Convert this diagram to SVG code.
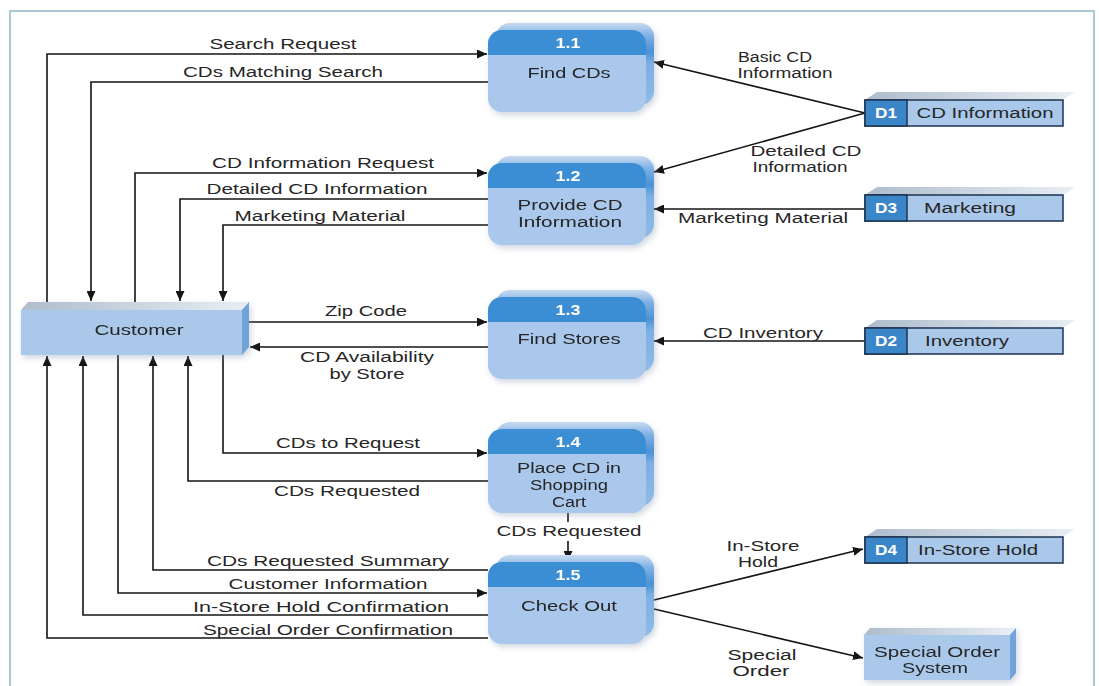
<svg xmlns="http://www.w3.org/2000/svg" width="1099" height="686" viewBox="0 0 1099 686">
<style>
.t{font-family:"Liberation Sans",Arial,sans-serif;font-size:14px;fill:#262626;text-anchor:middle}
.n{font-family:"Liberation Sans",Arial,sans-serif;font-size:14px;font-weight:bold;fill:#ffffff;text-anchor:middle}
.ln{fill:none;stroke:#151515;stroke-width:1.6}
.pbody{fill:#a9c8ec}
.phead{fill:#3b8dd4}
.pback{fill:url(#gback)}
.sfront{fill:#a9c8ea;stroke:#1d3350;stroke-width:1.5}
.sd{fill:#3a86c8;stroke:#1d3350;stroke-width:1.5}
.stop{fill:url(#gtop)}
.eside{fill:#6fa3d8}
.efront{fill:#a9c8ea}
</style>
<defs>
<linearGradient id="gback" x1="0" y1="0" x2="0" y2="1">
<stop offset="0" stop-color="#c9dbf1"/>
<stop offset="0.15" stop-color="#7fb1e4"/>
<stop offset="0.35" stop-color="#4b92d6"/>
<stop offset="0.5" stop-color="#7eb0e3"/>
<stop offset="1" stop-color="#8fbbe7"/>
</linearGradient>
<linearGradient id="gtop" x1="0" y1="0" x2="1" y2="0">
<stop offset="0" stop-color="#aebccc"/>
<stop offset="1" stop-color="#e8eef4"/>
</linearGradient>
<filter id="sh" x="-10%" y="-10%" width="130%" height="130%">
<feDropShadow dx="2" dy="3" stdDeviation="3" flood-color="#7a8fa8" flood-opacity="0.35"/>
</filter>
<marker id="ar" markerUnits="userSpaceOnUse" markerWidth="11" markerHeight="9" refX="10" refY="4.5" orient="auto">
<path d="M0,0 L10,4.5 L0,9 Z" fill="#151515"/>
</marker>
</defs>

<rect x="10" y="11" width="1084" height="690" fill="none" stroke="#a9c8d2" stroke-width="2"/>

<g id="connectors">
<path class="ln" d="M47,302 V54 H487" marker-end="url(#ar)"/>
<path class="ln" d="M488,82 H91 V301" marker-end="url(#ar)"/>
<path class="ln" d="M135,302 V173 H487" marker-end="url(#ar)"/>
<path class="ln" d="M488,199 H180 V301" marker-end="url(#ar)"/>
<path class="ln" d="M488,225 H223 V301" marker-end="url(#ar)"/>
<path class="ln" d="M242,322 H487" marker-end="url(#ar)"/>
<path class="ln" d="M488,347 H250" marker-end="url(#ar)"/>
<path class="ln" d="M223,355 V453 H487" marker-end="url(#ar)"/>
<path class="ln" d="M488,481 H188 V356" marker-end="url(#ar)"/>
<path class="ln" d="M568,513 V522"/>
<path class="ln" d="M568,541 V561" marker-end="url(#ar)"/>
<path class="ln" d="M488,570 H153 V356" marker-end="url(#ar)"/>
<path class="ln" d="M118,355 V593 H487" marker-end="url(#ar)"/>
<path class="ln" d="M488,615 H83 V356" marker-end="url(#ar)"/>
<path class="ln" d="M488,638 H47 V356" marker-end="url(#ar)"/>
<path class="ln" d="M865,113 L654,62" marker-end="url(#ar)"/>
<path class="ln" d="M865,113 L654,172" marker-end="url(#ar)"/>
<path class="ln" d="M865,209 H654" marker-end="url(#ar)"/>
<path class="ln" d="M865,341 H654" marker-end="url(#ar)"/>
<path class="ln" d="M654,600 L863,549" marker-end="url(#ar)"/>
<path class="ln" d="M654,609 L863,658" marker-end="url(#ar)"/>

<text class="t" x="283" y="49" textLength="147" lengthAdjust="spacingAndGlyphs">Search Request</text>
<text class="t" x="283" y="77" textLength="200" lengthAdjust="spacingAndGlyphs">CDs Matching Search</text>
<text class="t" x="323" y="168" textLength="222" lengthAdjust="spacingAndGlyphs">CD Information Request</text>
<text class="t" x="317" y="194" textLength="221" lengthAdjust="spacingAndGlyphs">Detailed CD Information</text>
<text class="t" x="320" y="221" textLength="171" lengthAdjust="spacingAndGlyphs">Marketing Material</text>
<text class="t" x="366" y="316" textLength="82" lengthAdjust="spacingAndGlyphs">Zip Code</text>
<text class="t" x="367" y="362" textLength="134" lengthAdjust="spacingAndGlyphs">CD Availability</text>
<text class="t" x="367" y="379" textLength="75" lengthAdjust="spacingAndGlyphs">by Store</text>
<text class="t" x="348" y="448" textLength="144" lengthAdjust="spacingAndGlyphs">CDs to Request</text>
<text class="t" x="347" y="496" textLength="146" lengthAdjust="spacingAndGlyphs">CDs Requested</text>
<text class="t" x="569" y="536" textLength="145" lengthAdjust="spacingAndGlyphs">CDs Requested</text>
<text class="t" x="328" y="566" textLength="242" lengthAdjust="spacingAndGlyphs">CDs Requested Summary</text>
<text class="t" x="328" y="589" textLength="199" lengthAdjust="spacingAndGlyphs">Customer Information</text>
<text class="t" x="321" y="612" textLength="256" lengthAdjust="spacingAndGlyphs">In-Store Hold Confirmation</text>
<text class="t" x="328" y="635" textLength="250" lengthAdjust="spacingAndGlyphs">Special Order Confirmation</text>
<text class="t" x="775" y="62" textLength="74" lengthAdjust="spacingAndGlyphs">Basic CD</text>
<text class="t" x="785" y="78" textLength="95" lengthAdjust="spacingAndGlyphs">Information</text>
<text class="t" x="806" y="156" textLength="111" lengthAdjust="spacingAndGlyphs">Detailed CD</text>
<text class="t" x="800" y="172" textLength="95" lengthAdjust="spacingAndGlyphs">Information</text>
<text class="t" x="763" y="223" textLength="170" lengthAdjust="spacingAndGlyphs">Marketing Material</text>
<text class="t" x="763" y="338" textLength="120" lengthAdjust="spacingAndGlyphs">CD Inventory</text>
<text class="t" x="763" y="551" textLength="73" lengthAdjust="spacingAndGlyphs">In-Store</text>
<text class="t" x="758" y="567" textLength="40" lengthAdjust="spacingAndGlyphs">Hold</text>
<text class="t" x="762" y="660" textLength="69" lengthAdjust="spacingAndGlyphs">Special</text>
<text class="t" x="761" y="676" textLength="57" lengthAdjust="spacingAndGlyphs">Order</text>
</g>

<g id="customer" filter="url(#sh)">
<polygon class="stop" points="21,310 28,302 249,302 242,310"/>
<polygon class="eside" points="242,310 249,302 249,347 242,355"/>
<rect class="efront" x="21" y="310" width="221" height="45"/>
<text class="t" x="139" y="335" textLength="89" lengthAdjust="spacingAndGlyphs">Customer</text>
</g>

<g id="p1-1" filter="url(#sh)">
<rect class="pback" x="496" y="23" width="158" height="82" rx="14"/>
<rect class="pbody" x="488" y="30" width="158" height="82" rx="14"/>
<path class="phead" d="M488,55 V44 A14,14 0 0 1 502,30 H632 A14,14 0 0 1 646,44 V55 Z"/>
<text class="n" x="568" y="48" textLength="25" lengthAdjust="spacingAndGlyphs">1.1</text>
<text class="t" x="569" y="78" textLength="83" lengthAdjust="spacingAndGlyphs">Find CDs</text>
</g>

<g id="p1-2" filter="url(#sh)">
<rect class="pback" x="496" y="156" width="158" height="82" rx="14"/>
<rect class="pbody" x="488" y="163" width="158" height="82" rx="14"/>
<path class="phead" d="M488,188 V177 A14,14 0 0 1 502,163 H632 A14,14 0 0 1 646,177 V188 Z"/>
<text class="n" x="568" y="181" textLength="25" lengthAdjust="spacingAndGlyphs">1.2</text>
<text class="t" x="570" y="210" textLength="105" lengthAdjust="spacingAndGlyphs">Provide CD</text>
<text class="t" x="570" y="227" textLength="104" lengthAdjust="spacingAndGlyphs">Information</text>
</g>

<g id="p1-3" filter="url(#sh)">
<rect class="pback" x="496" y="290" width="158" height="82" rx="14"/>
<rect class="pbody" x="488" y="297" width="158" height="82" rx="14"/>
<path class="phead" d="M488,322 V311 A14,14 0 0 1 502,297 H632 A14,14 0 0 1 646,311 V322 Z"/>
<text class="n" x="568" y="315" textLength="25" lengthAdjust="spacingAndGlyphs">1.3</text>
<text class="t" x="569" y="344" textLength="103" lengthAdjust="spacingAndGlyphs">Find Stores</text>
</g>

<g id="p1-4" filter="url(#sh)">
<rect class="pback" x="496" y="422" width="158" height="84" rx="14"/>
<rect class="pbody" x="488" y="429" width="158" height="84" rx="14"/>
<path class="phead" d="M488,454 V443 A14,14 0 0 1 502,429 H632 A14,14 0 0 1 646,443 V454 Z"/>
<text class="n" x="568" y="447" textLength="25" lengthAdjust="spacingAndGlyphs">1.4</text>
<text class="t" x="569" y="473" textLength="104" lengthAdjust="spacingAndGlyphs">Place CD in</text>
<text class="t" x="569" y="490" textLength="78" lengthAdjust="spacingAndGlyphs">Shopping</text>
<text class="t" x="569" y="507" textLength="34" lengthAdjust="spacingAndGlyphs">Cart</text>
</g>

<g id="p1-5" filter="url(#sh)">
<rect class="pback" x="496" y="555" width="158" height="82" rx="14"/>
<rect class="pbody" x="488" y="562" width="158" height="82" rx="14"/>
<path class="phead" d="M488,587 V576 A14,14 0 0 1 502,562 H632 A14,14 0 0 1 646,576 V587 Z"/>
<text class="n" x="568" y="580" textLength="25" lengthAdjust="spacingAndGlyphs">1.5</text>
<text class="t" x="569" y="611" textLength="96" lengthAdjust="spacingAndGlyphs">Check Out</text>
</g>

<g id="d1">
<polygon class="stop" points="865,100 877,92 1075,92 1063,100"/>
<rect class="sfront" x="865" y="100" width="198" height="26"/>
<rect class="sd" x="865" y="100" width="42" height="26"/>
<text class="n" x="886" y="118" textLength="22" lengthAdjust="spacingAndGlyphs">D1</text>
<text class="t" x="985" y="118" textLength="137" lengthAdjust="spacingAndGlyphs">CD Information</text>
</g>

<g id="d3">
<polygon class="stop" points="865,195 877,187 1075,187 1063,195"/>
<rect class="sfront" x="865" y="195" width="198" height="26"/>
<rect class="sd" x="865" y="195" width="42" height="26"/>
<text class="n" x="886" y="213" textLength="22" lengthAdjust="spacingAndGlyphs">D3</text>
<text class="t" x="970" y="213" textLength="92" lengthAdjust="spacingAndGlyphs">Marketing</text>
</g>

<g id="d2">
<polygon class="stop" points="865,328 877,320 1075,320 1063,328"/>
<rect class="sfront" x="865" y="328" width="198" height="26"/>
<rect class="sd" x="865" y="328" width="42" height="26"/>
<text class="n" x="886" y="346" textLength="22" lengthAdjust="spacingAndGlyphs">D2</text>
<text class="t" x="967" y="346" textLength="84" lengthAdjust="spacingAndGlyphs">Inventory</text>
</g>

<g id="d4">
<polygon class="stop" points="865,537 877,529 1075,529 1063,537"/>
<rect class="sfront" x="865" y="537" width="198" height="26"/>
<rect class="sd" x="865" y="537" width="42" height="26"/>
<text class="n" x="886" y="555" textLength="22" lengthAdjust="spacingAndGlyphs">D4</text>
<text class="t" x="978" y="555" textLength="120" lengthAdjust="spacingAndGlyphs">In-Store Hold</text>
</g>

<g id="special-order-system" filter="url(#sh)">
<polygon class="stop" points="864,635 870,628 1016,628 1010,635"/>
<polygon class="eside" points="1010,635 1016,628 1016,673 1010,680"/>
<rect class="efront" x="864" y="635" width="146" height="45"/>
<text class="t" x="937" y="657" textLength="126" lengthAdjust="spacingAndGlyphs">Special Order</text>
<text class="t" x="935" y="673" textLength="66" lengthAdjust="spacingAndGlyphs">System</text>
</g>
</svg>
